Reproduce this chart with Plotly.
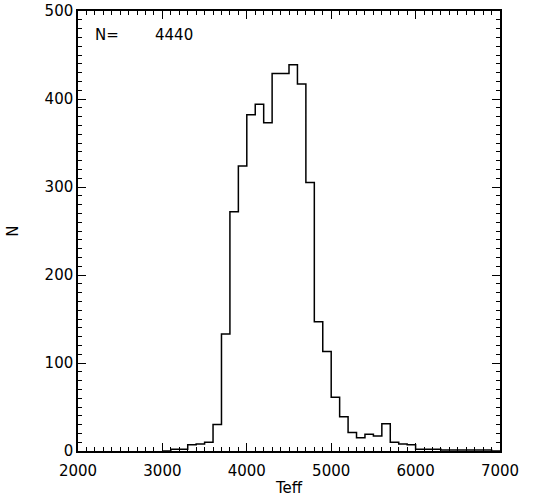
import plotly.graph_objects as go

# Histogram of Teff, bin width 100 K, bins starting at 3000 K
bin_edges = [3000, 3100, 3200, 3300, 3400, 3500, 3600, 3700, 3800, 3900,
             4000, 4100, 4200, 4300, 4400, 4500, 4600, 4700, 4800, 4900,
             5000, 5100, 5200, 5300, 5400, 5500, 5600, 5700, 5800, 5900,
             6000, 6100, 6200, 6300, 6400, 6500, 6600, 6700, 6800, 6900, 7000]
counts = [0, 2, 2, 7, 8, 10, 30, 133, 272, 324,
          382, 394, 373, 429, 429, 439, 417, 305, 147, 113,
          61, 39, 21, 15, 19, 17, 31, 10, 8, 7,
          2, 2, 2, 1, 1, 1, 1, 1, 1, 0]
n_total = 4440

xs = bin_edges
ys = counts + [counts[-1]]

fig = go.Figure()
fig.add_trace(go.Scatter(x=xs, y=ys, mode="lines", line_shape="hv",
                         line=dict(color="black", width=1.5),
                         showlegend=False, hoverinfo="skip"))

font = dict(family="DejaVu Sans", size=15, color="black")
axis_common = dict(showline=True, linecolor="black", linewidth=1.5, mirror="allticks",
                   ticks="inside", ticklen=8, tickwidth=1, tickcolor="black",
                   showgrid=False, zeroline=False, tickfont=font, automargin=False)

fig.update_xaxes(range=[2000, 7000], dtick=1000, tick0=2000, ticklabelstandoff=5,
                 minor=dict(ticks="inside", dtick=100, ticklen=4, tickcolor="black", showgrid=False),
                 title=dict(text="Teff", font=font, standoff=4), **axis_common)
fig.update_yaxes(range=[0, 500], dtick=100, tick0=0, ticklabelstandoff=0,
                 minor=dict(ticks="inside", dtick=10, ticklen=4, tickcolor="black", showgrid=False),
                 title=dict(text="N", font=font, standoff=22), **axis_common)

fig.add_annotation(x=0.035, y=0.97, xref="paper", yref="paper", text="N=",
                   showarrow=False, xanchor="left", yanchor="top", font=font)
fig.add_annotation(x=0.177, y=0.97, xref="paper", yref="paper", text=str(n_total),
                   showarrow=False, xanchor="left", yanchor="top", font=font)

fig.update_layout(width=540, height=501, margin=dict(l=78, r=40, t=11, b=50),
                  plot_bgcolor="white", paper_bgcolor="white")
fig.write_html("out.html", config={"displayModeBar": False},
               post_script="document.body.style.margin='0';document.body.style.padding='0';")
